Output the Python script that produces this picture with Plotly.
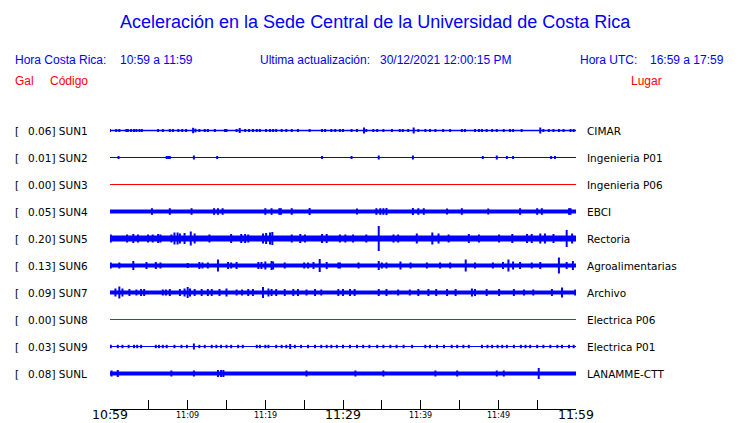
import plotly.graph_objects as go

# ---------------- data ----------------
codes = ["SUN1", "SUN2", "SUN3", "SUN4", "SUN5", "SUN6", "SUN7", "SUN8", "SUN9", "SUNL"]
gal = ["0.06", "0.01", "0.00", "0.05", "0.20", "0.13", "0.09", "0.00", "0.03", "0.08"]
places = ["CIMAR", "Ingenieria P01", "Ingenieria P06", "EBCI", "Rectoria", "Agroalimentarias",
          "Archivo", "Electrica P06", "Electrica P01", "LANAMME-CTT"]
active = [True, True, False, True, True, True, True, False, True, True]

# base (background) half-amplitude of each trace, display px
base_amp = [0.75, 0.6, 0.5, 2.0, 3.0, 2.0, 2.0, 0.5, 0.6, 2.0]

# bursts: (minute after 10:59, half-amplitude in display px)
sun1 = [(0.0, 1.5), (0.8, 1.5), (1.2, 1.5), (2.1, 1.5), (2.3, 1.5), (2.7, 1.5), (3.1, 1.5), (3.4, 1.5),
        (3.8, 1.5), (4.1, 1.5), (6.2, 1.5), (6.8, 1.5), (7.7, 1.5), (8.1, 1.5), (8.8, 1.5), (9.3, 1.5),
        (9.8, 1.5), (10.7, 2.7), (11.0, 1.8), (11.5, 1.5), (12.2, 1.5), (12.6, 1.5), (13.5, 1.5),
        (14.8, 1.5), (15.0, 1.5), (16.3, 1.5), (16.7, 2.5), (17.4, 1.5), (17.9, 1.5), (18.4, 1.5),
        (18.9, 1.5), (19.3, 1.5), (20.1, 1.5), (20.6, 1.5), (21.0, 1.5), (21.4, 1.5), (22.1, 1.5),
        (22.7, 1.5), (23.4, 1.5), (24.2, 1.5), (25.7, 1.5), (27.3, 1.5), (27.7, 1.5), (28.5, 1.5),
        (29.0, 1.5), (29.6, 1.5), (30.0, 1.5), (31.1, 1.5), (31.8, 1.5), (32.7, 3.0), (33.0, 1.5),
        (33.9, 1.5), (34.4, 1.5), (35.2, 1.5), (36.3, 1.5), (37.3, 1.5), (37.7, 1.5), (38.4, 1.5),
        (39.1, 3.0), (39.7, 1.5), (40.6, 1.5), (41.2, 1.5), (41.9, 1.5), (42.9, 1.5), (43.8, 1.5),
        (45.3, 1.5), (45.7, 1.5), (47.0, 1.5), (47.5, 1.5), (47.9, 1.5), (48.5, 1.5), (49.2, 1.5),
        (49.8, 1.5), (50.7, 1.5), (51.5, 1.5), (51.9, 1.5), (53.0, 1.5), (55.4, 3.0), (55.8, 1.5),
        (56.5, 1.5), (57.1, 1.5), (57.8, 1.5), (58.4, 1.5), (59.3, 1.5), (59.7, 1.5)]
sun2 = [(1.1, 1.5), (7.3, 1.5), (7.5, 1.5), (7.7, 1.5), (10.8, 2.0), (13.8, 1.5), (27.3, 1.5),
        (31.1, 1.5), (34.6, 2.0), (39.0, 2.0), (48.0, 1.5), (49.8, 2.0), (51.1, 1.5), (51.9, 1.5),
        (56.8, 1.5), (57.3, 1.5)]
sun3 = []
sun4 = [(5.4, 3.3), (7.7, 3.3), (10.5, 3.3), (13.4, 3.3), (13.9, 3.3), (14.5, 3.3), (20.0, 3.3),
        (20.8, 3.3), (21.8, 3.3), (22.0, 3.3), (23.4, 3.3), (25.7, 3.5), (31.8, 3.0), (34.3, 3.3),
        (34.8, 3.3), (35.2, 3.3), (35.6, 3.5), (39.0, 3.5), (39.7, 3.3), (40.4, 3.3), (43.4, 3.0),
        (45.3, 3.3), (48.7, 3.0), (52.8, 3.3), (55.0, 3.3), (55.6, 3.3), (59.1, 3.3), (59.3, 3.3)]
sun5 = [(0.1, 4.0), (2.2, 4.0), (3.0, 4.5), (3.6, 4.0), (4.9, 4.0), (5.5, 4.0), (6.2, 4.5), (6.5, 4.0),
        (7.9, 4.0), (8.3, 6.0), (8.7, 6.0), (9.0, 5.0), (9.6, 5.5), (10.4, 7.0), (10.9, 5.0),
        (12.8, 4.0), (15.6, 4.5), (16.9, 4.5), (17.4, 4.5), (17.8, 4.0), (19.7, 5.0), (20.1, 5.5),
        (20.6, 6.0), (20.9, 6.5), (23.4, 4.0), (24.5, 4.5), (25.1, 4.0), (27.3, 4.5), (27.9, 4.5),
        (29.6, 4.0), (30.3, 4.0), (31.3, 4.0), (33.0, 4.0), (34.6, 12.5), (36.5, 4.0), (37.1, 4.0),
        (39.5, 5.0), (41.5, 6.0), (42.3, 5.0), (43.6, 4.0), (46.2, 4.5), (47.5, 4.0), (50.1, 4.0),
        (51.8, 4.5), (53.7, 4.5), (54.3, 4.5), (55.4, 5.0), (56.0, 5.0), (57.1, 4.5), (58.8, 8.5),
        (59.5, 5.0)]
sun6 = [(0.1, 3.0), (1.2, 3.0), (3.0, 4.5), (4.7, 3.5), (5.9, 3.5), (6.5, 3.0), (10.0, 2.5),
        (11.5, 3.5), (11.9, 3.0), (12.6, 3.0), (13.9, 6.0), (15.2, 3.5), (15.6, 3.0), (16.3, 3.5),
        (19.1, 3.5), (19.5, 3.5), (20.0, 4.0), (20.8, 4.5), (21.0, 4.0), (22.5, 3.0), (25.0, 3.0),
        (25.5, 3.0), (26.2, 3.5), (27.0, 6.5), (27.9, 3.5), (29.4, 3.0), (29.6, 3.0), (32.0, 3.0),
        (34.6, 4.5), (35.0, 3.0), (35.6, 3.0), (37.4, 4.0), (38.7, 3.0), (40.8, 3.0), (42.5, 3.0),
        (43.8, 3.0), (45.8, 6.0), (47.0, 3.0), (49.3, 3.0), (50.6, 3.5), (51.3, 6.0), (51.9, 4.0),
        (52.8, 3.5), (54.3, 3.0), (55.4, 3.5), (57.8, 8.0), (58.8, 3.5), (59.6, 4.5)]
sun7 = [(0.7, 4.0), (1.2, 6.0), (1.6, 4.0), (2.5, 3.5), (3.4, 3.0), (4.0, 3.5), (4.4, 3.5), (6.8, 3.0),
        (7.2, 3.0), (7.7, 3.5), (9.0, 3.5), (9.6, 4.0), (10.0, 5.5), (10.3, 4.0), (10.9, 3.5),
        (11.8, 3.5), (12.6, 3.5), (13.1, 3.5), (14.1, 3.5), (15.0, 4.0), (16.3, 3.0), (17.0, 3.0),
        (17.8, 3.5), (18.4, 3.5), (19.7, 5.5), (20.4, 4.0), (20.8, 3.5), (21.4, 3.5), (22.5, 3.5),
        (23.6, 3.5), (24.2, 3.5), (25.3, 3.0), (26.4, 3.5), (27.2, 3.0), (29.4, 3.5), (30.0, 3.5),
        (30.9, 3.5), (31.5, 3.5), (34.6, 3.5), (35.6, 3.5), (37.1, 3.0), (38.6, 3.0), (39.7, 3.5),
        (41.0, 3.5), (42.0, 3.5), (43.4, 3.5), (44.5, 3.5), (46.6, 4.0), (47.0, 3.5), (48.5, 3.5),
        (50.1, 3.5), (52.0, 3.5), (53.3, 3.0), (54.5, 3.0), (56.9, 3.5), (58.2, 5.0), (59.9, 3.0)]
sun8 = []
sun9 = [(0.1, 1.7), (1.0, 1.7), (1.6, 1.7), (2.4, 1.7), (3.1, 1.7), (3.5, 1.7), (4.0, 1.7), (5.9, 1.7),
        (6.3, 1.7), (6.8, 1.7), (7.3, 1.7), (8.3, 1.7), (9.2, 1.7), (9.9, 1.7), (10.8, 3.0),
        (11.5, 1.7), (12.2, 1.7), (13.1, 1.7), (13.7, 1.7), (14.3, 1.7), (15.0, 1.7), (15.6, 1.7),
        (16.5, 1.7), (17.1, 1.7), (18.9, 1.7), (19.3, 1.7), (20.0, 1.7), (20.4, 1.7), (21.4, 1.7),
        (22.1, 1.7), (22.7, 1.7), (23.2, 2.5), (23.8, 1.7), (24.6, 1.7), (25.5, 1.7), (26.4, 1.7),
        (27.2, 1.7), (27.9, 1.7), (28.5, 1.7), (29.2, 1.7), (30.0, 1.7), (30.9, 1.7), (31.8, 1.7),
        (32.6, 1.7), (33.4, 1.7), (34.4, 1.7), (35.2, 1.7), (36.1, 1.7), (36.9, 1.7), (37.8, 1.7),
        (38.9, 1.7), (40.6, 1.7), (41.2, 1.7), (42.1, 1.7), (43.0, 1.7), (44.0, 1.7), (44.7, 1.7),
        (45.5, 1.7), (46.2, 1.7), (47.9, 1.7), (48.6, 1.7), (49.2, 1.7), (49.9, 1.7), (50.5, 1.7),
        (51.1, 1.7), (52.0, 1.7), (52.9, 1.7), (53.5, 1.7), (54.1, 1.7), (55.0, 1.7), (55.8, 1.7),
        (56.7, 1.7), (57.6, 1.7), (58.2, 1.7), (59.1, 1.7), (59.7, 1.7)]
sunl = [(0.2, 3.0), (1.0, 3.5), (7.9, 3.0), (10.8, 3.0), (13.9, 3.5), (14.3, 3.5), (14.6, 3.5),
        (25.3, 3.0), (31.6, 3.0), (35.2, 3.0), (41.9, 3.0), (44.7, 3.0), (49.8, 3.0), (50.7, 3.0),
        (55.2, 5.5)]
bursts = [sun1, sun2, sun3, sun4, sun5, sun6, sun7, sun8, sun9, sunl]

minute_ticks = list(range(0, 61, 5))
tick_labels = ["10:59", "11:09", "11:19", "11:29", "11:39", "11:49", "11:59"]
tick_label_minutes = [0, 10, 20, 30, 40, 50, 60]
major_labels = ["10:59", "11:29", "11:59"]

title = "Aceleración en la Sede Central de la Universidad de Costa Rica"
header = [("Hora Costa Rica:", 13), ("10:59 a 11:59", 118), ("Ultima actualización:", 258),
          ("30/12/2021 12:00:15 PM", 378), ("Hora UTC:", 578), ("16:59 a 17:59", 648)]

# ---------------- layout constants ----------------
W, H = 740, 423
L, R, T, B = 110, 164, 100, 14
ROW_PX = 27.0
ROW0 = 130.5
plot_w = W - L - R
plot_h = H - T - B
y_top = (ROW0 - T) / ROW_PX
y_bot = y_top - plot_h / ROW_PX

BLUE = "#0000ff"
RED = "#ff0000"


def px_x(px):
    return (px - L) / plot_w


def px_y(py):
    return (H - B - py) / plot_h


fig = go.Figure()

for i in range(len(codes)):
    yc = -i
    color = BLUE if active[i] else RED
    fig.add_trace(go.Scatter(x=[0, 60], y=[yc, yc], mode="lines",
                             line=dict(color=color, width=max(1.0, 2 * base_amp[i])),
                             hoverinfo="skip", showlegend=False))
    xs, ys = [], []
    for m, a in bursts[i]:
        xs += [m, m, None]
        ys += [yc - a / ROW_PX, yc + a / ROW_PX, None]
    if xs:
        fig.add_trace(go.Scatter(x=xs, y=ys, mode="lines",
                                 line=dict(color=color, width=2),
                                 hoverinfo="skip", showlegend=False))

ann = []
ann.append(dict(text=title, x=px_x(375), y=px_y(22), xref="paper", yref="paper",
                xanchor="center", yanchor="middle", showarrow=False,
                font=dict(family="Liberation Sans", size=18, color=BLUE)))
for txt, px in header:
    ann.append(dict(text=txt, x=px_x(px), y=px_y(60), xref="paper", yref="paper",
                    xanchor="left", yanchor="middle", showarrow=False,
                    font=dict(family="Liberation Sans", size=12, color=BLUE)))
for txt, px, anc in [("Gal", 13, "left"), ("Código", 48, "left"), ("Lugar", 664, "right")]:
    ann.append(dict(text=txt, x=px_x(px), y=px_y(81), xref="paper", yref="paper",
                    xanchor=anc, yanchor="middle", showarrow=False,
                    font=dict(family="Liberation Sans", size=12, color=RED)))

lab_font = dict(family="DejaVu Sans", size=10.5, color="black")
for i in range(len(codes)):
    ann.append(dict(text="[", x=px_x(13), y=-i, xref="paper", yref="y", xanchor="left",
                    yanchor="middle", showarrow=False, font=lab_font))
    ann.append(dict(text=f"{gal[i]}] {codes[i]}", x=px_x(26), y=-i, xref="paper", yref="y",
                    xanchor="left", yanchor="middle", showarrow=False, font=lab_font))
    ann.append(dict(text=places[i], x=px_x(585), y=-i, xref="paper", yref="y", xanchor="left",
                    yanchor="middle", showarrow=False, font=lab_font))

for lbl, m in zip(tick_labels, tick_label_minutes):
    big = lbl in major_labels
    if big:
        ann.append(dict(text=lbl, x=m, y=px_y(423), xref="x", yref="paper",
                        xanchor="center", yanchor="bottom", showarrow=False, borderpad=0,
                        font=dict(family="DejaVu Sans", size=12.5, color="black")))
    else:
        ann.append(dict(text=lbl, x=m, y=px_y(415.5), xref="x", yref="paper",
                        xanchor="center", yanchor="middle", showarrow=False,
                        font=dict(family="DejaVu Sans", size=8, color="black")))

fig.update_layout(
    width=W, height=H, margin=dict(l=L, r=R, t=T, b=B, pad=0),
    paper_bgcolor="white", plot_bgcolor="white",
    xaxis=dict(range=[0, 60], tickvals=minute_ticks, ticks="inside", ticklen=9, tickwidth=1,
               tickcolor="black", showticklabels=False, showline=True, linecolor="black",
               linewidth=1, showgrid=False, zeroline=False, fixedrange=True),
    yaxis=dict(range=[y_bot, y_top], visible=False, showgrid=False, zeroline=False, fixedrange=True),
    annotations=ann,
)

fig.write_html("out.html", config={"displayModeBar": False},
               post_script="document.body.style.margin='0';document.body.style.overflow='hidden';")
